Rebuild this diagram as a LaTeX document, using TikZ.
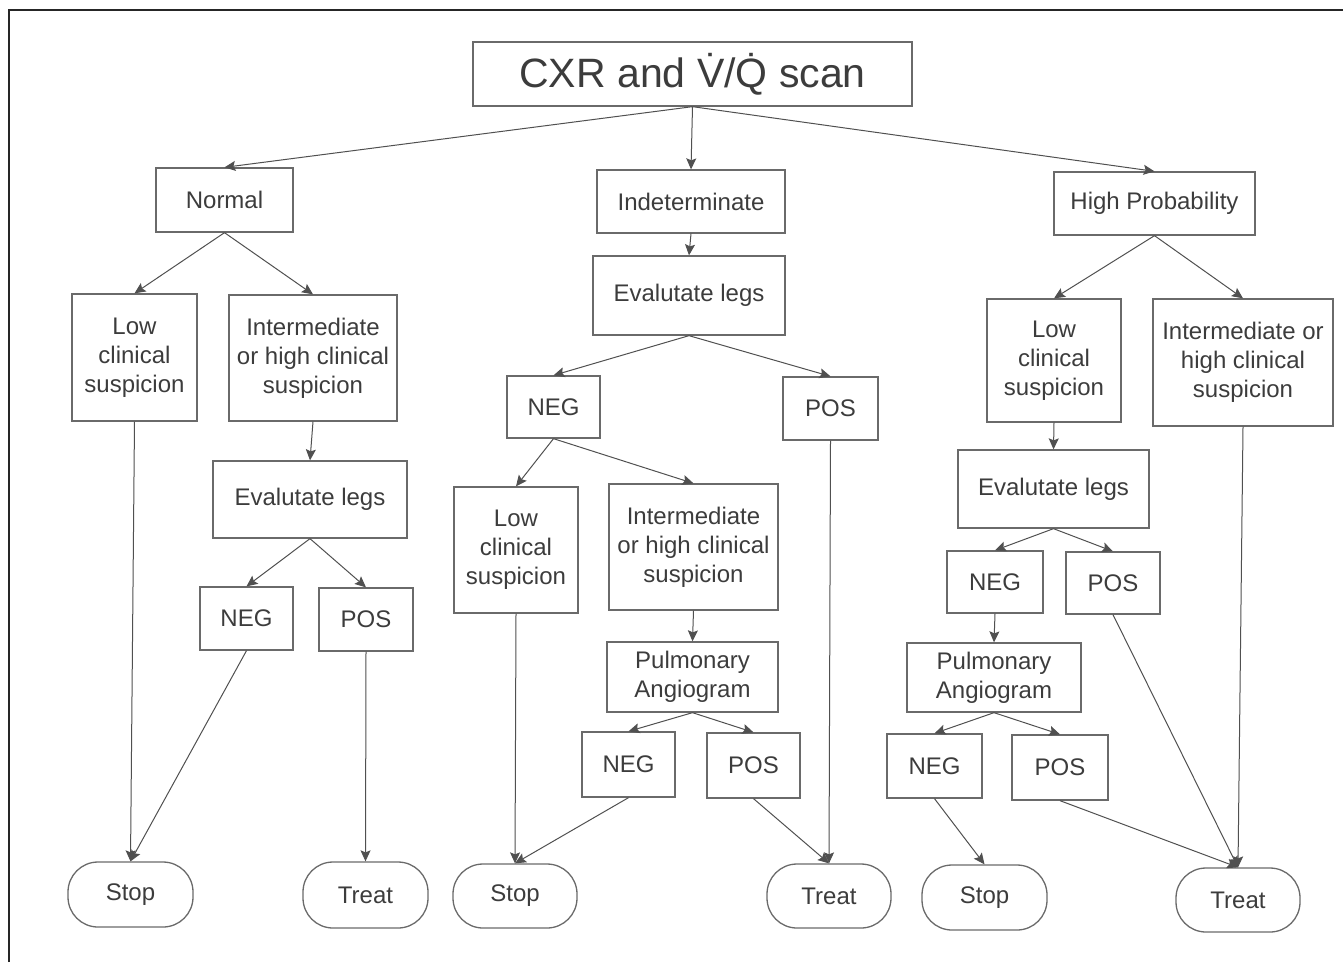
\documentclass[tikz,border=0pt]{standalone}
\usepackage{fontspec}
\setmainfont{Liberation Sans}
\usetikzlibrary{arrows.meta}
\definecolor{txt}{HTML}{3C3C3C}
\definecolor{edgec}{HTML}{6A6A6A}
\definecolor{conn}{HTML}{505050}
\begin{document}
\begin{tikzpicture}[x=1pt,y=-1pt,
 box/.style={draw=edgec,line width=1.3pt,align=center,inner sep=0pt,text=txt,font=\fontsize{24}{29}\selectfont},
 term/.style={box,rounded corners=30pt},
 arr/.style={draw=conn,line width=1pt,-{Stealth[length=11pt,width=10pt,inset=2pt]}}]
\useasboundingbox (0,0) rectangle (1343,962);
\draw[line width=2.2pt,color=black!85] (9,962) -- (9,10) -- (1343,10);
% top
\node[box,minimum width=439pt,minimum height=64pt,font=\fontsize{41}{48}\selectfont] (top) at (692.5,74) {CXR and \.{V}/\.{Q} scan};
% left column
\node[box,minimum width=137pt,minimum height=64pt] (normal) at (224.5,200) {Normal};
\node[box,minimum width=125pt,minimum height=127pt] (lowL) at (134.5,357.5) {Low\\clinical\\suspicion};
\node[box,minimum width=168pt,minimum height=126pt] (intL) at (313,358) {Intermediate\\or high clinical\\suspicion};
\node[box,minimum width=194pt,minimum height=77pt] (evalL) at (310,499.5) {Evalutate legs};
\node[box,minimum width=93pt,minimum height=63pt] (negL) at (246.5,618.5) {NEG};
\node[box,minimum width=94pt,minimum height=63pt] (posL) at (366,619.5) {POS};
\node[term,minimum width=125pt,minimum height=65pt] (stopL) at (130.5,894.5) {Stop};
\node[term,minimum width=125pt,minimum height=66pt] (treatL) at (365.5,895) {Treat};
% centre column
\node[box,minimum width=188pt,minimum height=63pt] (indet) at (691,201.5) {Indeterminate};
\node[box,minimum width=192pt,minimum height=79pt] (evalC) at (689,295.5) {Evalutate legs};
\node[box,minimum width=93pt,minimum height=62pt] (negC) at (553.5,407) {NEG};
\node[box,minimum width=95pt,minimum height=63pt] (posC) at (830.5,408.5) {POS};
\node[box,minimum width=124pt,minimum height=126pt] (lowC) at (516,550) {Low\\clinical\\suspicion};
\node[box,minimum width=169pt,minimum height=126pt] (intC) at (693.5,547) {Intermediate\\or high clinical\\suspicion};
\node[box,minimum width=171pt,minimum height=70pt] (paC) at (692.5,677) {Pulmonary\\Angiogram};
\node[box,minimum width=93pt,minimum height=65pt] (negC2) at (628.5,764.5) {NEG};
\node[box,minimum width=93pt,minimum height=65pt] (posC2) at (753.5,765.5) {POS};
\node[term,minimum width=124pt,minimum height=64pt] (stopC) at (515,896) {Stop};
\node[term,minimum width=124pt,minimum height=64pt] (treatC) at (829,896) {Treat};
% right column
\node[box,minimum width=201pt,minimum height=63pt] (hp) at (1154.5,203.5) {High Probability};
\node[box,minimum width=134pt,minimum height=123pt] (lowR) at (1054,360.5) {Low\\clinical\\suspicion};
\node[box,minimum width=180pt,minimum height=127pt] (intR) at (1243,362.5) {Intermediate or\\high clinical\\suspicion};
\node[box,minimum width=191pt,minimum height=78pt] (evalR) at (1053.5,489) {Evalutate legs};
\node[box,minimum width=96pt,minimum height=62pt] (negR) at (995,582) {NEG};
\node[box,minimum width=94pt,minimum height=62pt] (posR) at (1113,583) {POS};
\node[box,minimum width=174pt,minimum height=69pt] (paR) at (994,677.5) {Pulmonary\\Angiogram};
\node[box,minimum width=95pt,minimum height=64pt] (negR2) at (934.5,766) {NEG};
\node[box,minimum width=96pt,minimum height=65pt] (posR2) at (1060,767.5) {POS};
\node[term,minimum width=125pt,minimum height=65pt] (stopR) at (984.5,897.5) {Stop};
\node[term,minimum width=124pt,minimum height=64pt] (treatR) at (1238,900) {Treat};
% connectors
\draw[arr] (top.south) -- (normal.north);
\draw[arr] (top.south) -- (indet.north);
\draw[arr] (top.south) -- (hp.north);
\draw[arr] (normal.south) -- (lowL.north);
\draw[arr] (normal.south) -- (intL.north);
\draw[arr] (intL.south) -- (evalL.north);
\draw[arr] (evalL.south) -- (negL.north);
\draw[arr] (evalL.south) -- (posL.north);
\draw[arr] (lowL.south) -- (stopL.north);
\draw[arr] (negL.south) -- (stopL.north);
\draw[arr] (posL.south) -- (treatL.north);
\draw[arr] (indet.south) -- (evalC.north);
\draw[arr] (evalC.south) -- (negC.north);
\draw[arr] (evalC.south) -- (posC.north);
\draw[arr] (negC.south) -- (lowC.north);
\draw[arr] (negC.south) -- (intC.north);
\draw[arr] (intC.south) -- (paC.north);
\draw[arr] (paC.south) -- (negC2.north);
\draw[arr] (paC.south) -- (posC2.north);
\draw[arr] (lowC.south) -- (stopC.north);
\draw[arr] (negC2.south) -- (stopC.north);
\draw[arr] (posC.south) -- (treatC.north);
\draw[arr] (posC2.south) -- (treatC.north);
\draw[arr] (hp.south) -- (lowR.north);
\draw[arr] (hp.south) -- (intR.north);
\draw[arr] (lowR.south) -- (evalR.north);
\draw[arr] (evalR.south) -- (negR.north);
\draw[arr] (evalR.south) -- (posR.north);
\draw[arr] (negR.south) -- (paR.north);
\draw[arr] (paR.south) -- (negR2.north);
\draw[arr] (paR.south) -- (posR2.north);
\draw[arr] (negR2.south) -- (stopR.north);
\draw[arr] (posR2.south) -- (treatR.north);
\draw[arr] (posR.south) -- (treatR.north);
\draw[arr] (intR.south) -- (treatR.north);
\end{tikzpicture}
\end{document}
